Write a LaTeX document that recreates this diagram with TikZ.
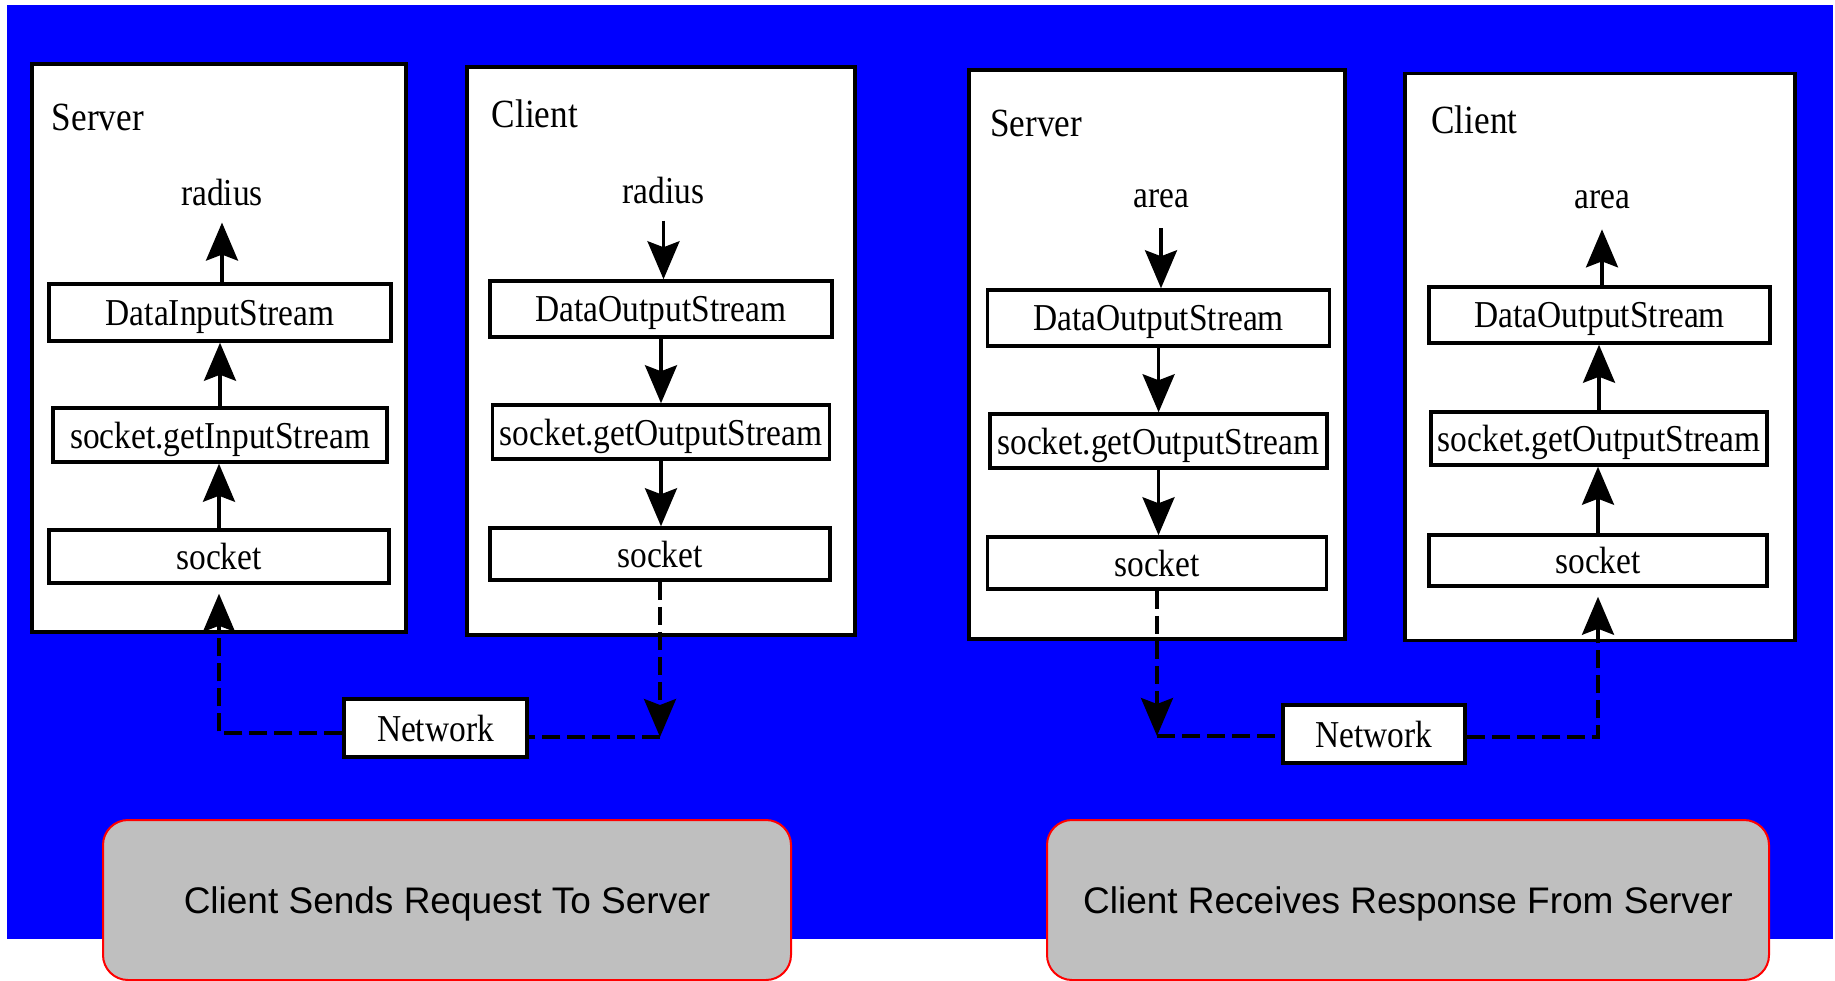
\documentclass[tikz,border=0pt]{standalone}
\usepackage{fontspec}
\setmainfont{Liberation Serif}[FakeStretch=0.88]
\newfontfamily\capfont{Liberation Sans}
\usetikzlibrary{arrows.meta}
\definecolor{bgblue}{RGB}{0,0,255}
\definecolor{capgray}{RGB}{191,191,191}
\definecolor{capred}{RGB}{255,0,0}
\begin{document}
\begin{tikzpicture}[x=0.5pt,y=-0.5pt,
 panel/.style={draw=black, fill=white, line width=1.75pt, inner sep=0pt},
 sbox/.style={draw=black, fill=white, line width=1.75pt, inner sep=0pt, text depth=0pt, font=\fontsize{19}{22}\selectfont},
 lbl/.style={inner sep=0pt, text depth=0pt, font=\fontsize{20}{23}\selectfont, anchor=west},
 val/.style={inner sep=0pt, text depth=0pt, font=\fontsize{19}{22}\selectfont},
 arr/.style={line width=1.6pt, -{Stealth[length=19pt,width=16pt,inset=3pt]}},
 net/.style={line width=1.6pt, dash pattern=on 9pt off 3.5pt},
 caption/.style={draw=capred, fill=capgray, line width=1pt, rounded corners=12.5pt, inner sep=0pt, text depth=0pt, font=\capfont\fontsize{18.5}{22}\selectfont}
]
\useasboundingbox (0,0) rectangle (1835,980);
\fill[bgblue] (7,5) rectangle (1833,939);

% panels
\node[panel, minimum width=187pt, minimum height=284pt] (S1) at (219,348) {};
\node[panel, minimum width=194pt, minimum height=284pt] (C1) at (661,351) {};
\node[panel, minimum width=188pt, minimum height=284.5pt] (S2) at (1157,354.5) {};
\node[panel, minimum width=195pt, minimum height=283.5pt] (C2) at (1600,357) {};

% panel titles
\node[lbl] (S1t) at (51.5,117) {Server};
\node[lbl] (C1t) at (491.5,113.5) {Client};
\node[lbl] (S2t) at (990,123) {Server};
\node[lbl] (C2t) at (1431,120) {Client};

% values
\node[val] (r1) at (222,192) {radius};
\node[val] (r2) at (663.5,190) {radius};
\node[val] (a1) at (1161,199) {area};
\node[val] (a2) at (1602,200) {area};

% panel 1
\node[sbox, minimum width=171pt, minimum height=28.5pt] (dis1) at (220,312.5) {DataInputStream};
\node[sbox, minimum width=167pt, minimum height=27pt] (gis1) at (220,435) {socket.getInputStream};
\node[sbox, minimum width=170pt, minimum height=26.5pt] (sk1) at (219,556.5) {socket};
% panel 2
\node[sbox, minimum width=171pt, minimum height=28pt] (dos1) at (661,309) {DataOutputStream};
\node[sbox, minimum width=168.5pt, minimum height=27pt] (gos1) at (661,432) {socket.getOutputStream};
\node[sbox, minimum width=170pt, minimum height=26pt] (sk2) at (660,554) {socket};
% panel 3
\node[sbox, minimum width=171pt, minimum height=28pt] (dos2) at (1158.6,318) {DataOutputStream};
\node[sbox, minimum width=168.5pt, minimum height=27pt] (gos2) at (1158.5,441) {socket.getOutputStream};
\node[sbox, minimum width=169.5pt, minimum height=26pt] (sk3) at (1157,563) {socket};
% panel 4
\node[sbox, minimum width=170.5pt, minimum height=28pt] (dos3) at (1599.5,315) {DataOutputStream};
\node[sbox, minimum width=168pt, minimum height=26.5pt] (gos3) at (1599,438.5) {socket.getOutputStream};
\node[sbox, minimum width=169pt, minimum height=25.5pt] (sk4) at (1598,560.5) {socket};

% network boxes
\node[sbox, minimum width=91.5pt, minimum height=29pt] (net1) at (435.5,728) {Network};
\node[sbox, minimum width=91pt, minimum height=29pt] (net2) at (1374,734) {Network};

% connector attachment points on the network boxes
\coordinate (n1w) at ([yshift=-2.5pt]net1.west);
\coordinate (n1e) at ([yshift=-4.5pt]net1.east);
\coordinate (n2w) at ([yshift=-1pt]net2.west);
\coordinate (n2e) at ([yshift=-1.5pt]net2.east);
\coordinate (k2) at (sk2.south |- n1e);
\coordinate (k3) at (sk3.south |- n2w);

% arrows inside panels
\draw[arr, shorten >=8.5pt] (r1.south |- dis1.north) -- (r1.south);
\draw[arr] (gis1.north) -- (gis1.north |- dis1.south);
\draw[arr] (sk1.north) -- (sk1.north |- gis1.south);

\draw[arr, shorten <=8.5pt] (r2.south) -- (r2.south |- dos1.north);
\draw[arr] (dos1.south) -- (dos1.south |- gos1.north);
\draw[arr] (gos1.south) -- (gos1.south |- sk2.north);

\draw[arr, shorten <=10pt] (a1.south) -- (a1.south |- dos2.north);
\draw[arr] (dos2.south) -- (dos2.south |- gos2.north);
\draw[arr] (gos2.south) -- (gos2.south |- sk3.north);

\draw[arr, shorten >=10pt] (a2.south |- dos3.north) -- (a2.south);
\draw[arr] (gos3.north) -- (gos3.north |- dos3.south);
\draw[arr] (sk4.north) -- (sk4.north |- gos3.south);

% network connectors
\draw[net, arr, shorten >=4.5pt] (n1w) -| (sk1.south);
\draw[net, arr] (sk2.south) -- (k2);
\draw[net] (k2) -- (n1e);
\draw[net, arr] (sk3.south) -- (k3);
\draw[net] (k3) -- (n2w);
\draw[net, arr, shorten >=4.5pt] (n2e) -| (sk4.south);

% captions
\node[caption, minimum width=344pt, minimum height=80pt] (cap1) at (447,900) {Client Sends Request To Server};
\node[caption, minimum width=361pt, minimum height=80pt] (cap2) at (1408,900) {Client Receives Response From Server};
\end{tikzpicture}
\end{document}
